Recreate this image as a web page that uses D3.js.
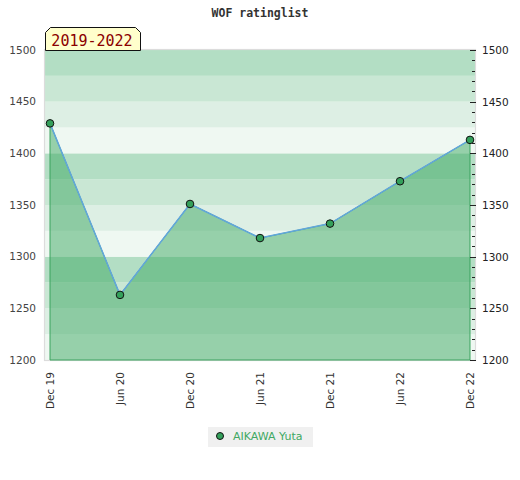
<!DOCTYPE html>
<html><head><meta charset="utf-8">
<script src="https://cdn.jsdelivr.net/npm/d3@7"></script>
<style>body{margin:0;background:#fff}svg{display:block}</style>
</head><body><div id="c"></div>
<script>
const categories = ["Dec 19","Jun 20","Dec 20","Jun 21","Dec 21","Jun 22","Dec 22"];
const ratings = [1429, 1263, 1351, 1318, 1332, 1373, 1413];
const yTicks = [1200, 1250, 1300, 1350, 1400, 1450, 1500];
const seriesName = "AIKAWA Yuta";
const periodLabel = "2019-2022";
const chartTitle = "WOF ratinglist";

const W = 520, H = 480;
const plot = {l: 45, r: 475, t: 50, b: 360};
const svg = d3.select("#c").append("svg").attr("width", W).attr("height", H);

const x = d3.scalePoint().domain(categories).range([50, 470]);
const y = d3.scaleLinear().domain([1200, 1500]).range([plot.b, plot.t]);

// background bands
const bandColors = ["#eff8f2", "#ddefe4", "#c9e7d4", "#b3dec4"];
const bands = d3.range(1200, 1500, 25);
svg.append("g").selectAll("rect").data(bands).join("rect")
  .attr("x", plot.l).attr("width", plot.r - plot.l)
  .attr("y", d => y(d + 25)).attr("height", d => y(d) - y(d + 25))
  .attr("fill", (d, i) => bandColors[i % 4]);

// frame
svg.append("rect").attr("x", plot.l - 0.5).attr("y", plot.t - 0.5)
  .attr("width", plot.r - plot.l + 1).attr("height", plot.b - plot.t + 1)
  .attr("fill", "none").attr("stroke", "#dcdcdc").attr("stroke-width", 1.2);

const data = categories.map((c, i) => ({c, v: ratings[i]}));

// area
const area = d3.area().x(d => x(d.c)).y0(y(1200)).y1(d => y(d.v));
svg.append("path").datum(data).attr("d", area)
  .attr("fill", "rgb(62,168,98)").attr("fill-opacity", 0.5)
  .attr("stroke", "#3aa35f").attr("stroke-width", 1);

// line
const line = d3.line().x(d => x(d.c)).y(d => y(d.v));
svg.append("path").datum(data).attr("d", line)
  .attr("fill", "none").attr("stroke", "#62a6dc").attr("stroke-width", 1.5);

// markers
svg.append("g").selectAll("circle").data(data).join("circle")
  .attr("cx", d => x(d.c)).attr("cy", d => y(d.v)).attr("r", 3.8)
  .attr("fill", "#34a05b").attr("stroke", "#111").attr("stroke-width", 1);

// left axis labels
svg.append("g").selectAll("text").data(yTicks).join("text")
  .attr("x", 36).attr("y", d => y(d)).attr("dy", "0.35em")
  .attr("text-anchor", "end").attr("font-family", "DejaVu Sans")
  .attr("font-size", 10.5).attr("fill", "#444").text(d => d);

// right axis
const rAxis = d3.axisRight(y).tickValues(yTicks).tickSize(0).tickPadding(7).tickFormat(d3.format("d"));
const rg = svg.append("g").attr("transform", `translate(${plot.r},0)`).call(rAxis);
rg.select(".domain").remove();
rg.selectAll("text").attr("font-family", "DejaVu Sans").attr("font-size", 10.5).attr("fill", "#222");
const minor = d3.range(1200, 1501, 10);
svg.append("g").selectAll("line").data(minor).join("line")
  .attr("x1", d => d % 50 === 0 ? plot.r - 5 : plot.r - 3)
  .attr("x2", d => d % 50 === 0 ? plot.r + 1 : plot.r)
  .attr("y1", d => Math.round(y(d)) + 0.5).attr("y2", d => Math.round(y(d)) + 0.5)
  .attr("stroke", "#222").attr("stroke-width", 1);

// x axis labels
svg.append("g").selectAll("text").data(categories).join("text")
  .attr("transform", d => `translate(${x(d)},372) rotate(-90)`)
  .attr("dy", "0.35em").attr("text-anchor", "end")
  .attr("font-family", "DejaVu Sans").attr("font-size", 10.5).attr("fill", "#333")
  .text(d => d);

// title
svg.append("text").attr("x", 260).attr("y", 17).attr("text-anchor", "middle")
  .attr("font-family", "DejaVu Sans Mono").attr("font-weight", "bold")
  .attr("font-size", 11.5).attr("fill", "#333").text(chartTitle);

// period tag
const tx0 = 45.5, tx1 = 140.5, ty0 = 27.5, ty1 = 50.5, ch = 5;
svg.append("path")
  .attr("d", `M${tx0},${ty1}L${tx0},${ty0 + ch}L${tx0 + ch},${ty0}L${tx1 - ch},${ty0}L${tx1},${ty0 + ch}L${tx1},${ty1}Z`)
  .attr("fill", "#ffffcc").attr("stroke", "#111").attr("stroke-width", 1);
svg.append("text").attr("x", 92).attr("y", 45.5).attr("text-anchor", "middle")
  .attr("font-family", "DejaVu Sans Mono").attr("font-size", 15)
  .attr("fill", "#8b0000").text(periodLabel);

// legend
const lg = svg.append("g");
lg.append("rect").attr("x", 208).attr("y", 427).attr("width", 105).attr("height", 20).attr("fill", "#f0f0f0");
lg.append("circle").attr("cx", 220).attr("cy", 436).attr("r", 3.5)
  .attr("fill", "#34a05b").attr("stroke", "#111").attr("stroke-width", 1);
lg.append("text").attr("x", 233).attr("y", 436).attr("dy", "0.35em")
  .attr("font-family", "DejaVu Sans").attr("font-size", 11).attr("fill", "#41a863").text(seriesName);
</script></body></html>
